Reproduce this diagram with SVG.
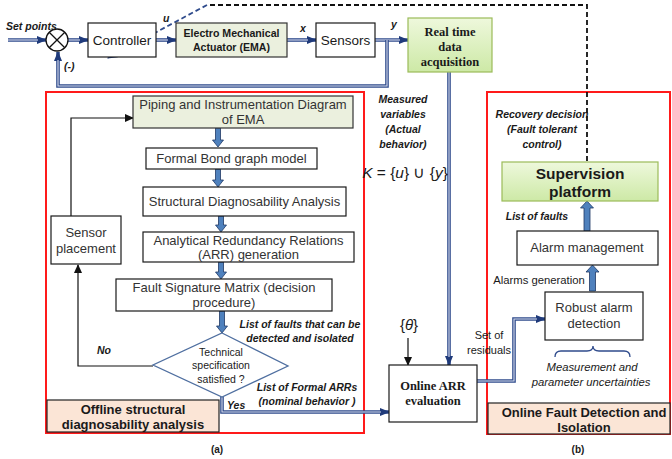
<svg xmlns="http://www.w3.org/2000/svg" width="672" height="459" viewBox="0 0 672 459">
<defs>
<style>
.box{fill:#fff;stroke:#1a1a1a;stroke-width:1.2}
.gbox{fill:#ebf0de;stroke:#333;stroke-width:1.2}
.green{fill:url(#gg);stroke:#9bbb59;stroke-width:1.2}
.peach{fill:#fbe5d6;stroke:#222;stroke-width:1.2}
.red{fill:none;stroke:#ff1a1a;stroke-width:2}
.dbl{fill:none;stroke:#2f4b8c;stroke-width:3.6}
.dbli{fill:none;stroke:#d9dfee;stroke-width:1.1}
.thin{fill:none;stroke:#111;stroke-width:1.2}
.blk{fill:#4f81bd;stroke:#1f3864;stroke-width:0.8}
.dash{fill:none;stroke:#111;stroke-width:1.8;stroke-dasharray:5,3}
.dashb{fill:none;stroke:#2f4b8c;stroke-width:1.8;stroke-dasharray:5,3}
text{font-family:"Liberation Sans",Arial,sans-serif;fill:#1a1a1a}
.t12{font-size:13px;fill:#333}
.bi{font-weight:bold;font-style:italic;font-size:10.5px}
.ser{font-family:"Liberation Serif","Times New Roman",serif;font-weight:bold;font-size:12.5px}
.lab{font-size:13px;font-weight:bold}
</style>
<linearGradient id="gg" x1="0" y1="0" x2="0" y2="1">
<stop offset="0" stop-color="#eef8dc"/>
<stop offset="1" stop-color="#cde9a6"/>
</linearGradient>
<marker id="ab" markerUnits="userSpaceOnUse" markerWidth="10" markerHeight="10" refX="9" refY="5" orient="auto">
<path d="M0,1 L10,5 L0,9 Z" fill="#1f3a7a"/>
</marker>
<marker id="ak" markerUnits="userSpaceOnUse" markerWidth="9" markerHeight="9" refX="8" refY="4.5" orient="auto">
<path d="M0,0.5 L9,4.5 L0,8.5 Z" fill="#111"/>
</marker>
</defs>

<!-- containers -->
<g id="offline-frame"><rect class="red" x="46" y="92" width="318" height="341"/></g>
<g id="online-frame"><rect class="red" x="487" y="92" width="183" height="342"/></g>

<!-- connectors -->
<g id="connectors">
<path class="dbl" d="M8,40 H46" marker-end="url(#ab)"/><path class="dbli" d="M8,40 H38"/>
<path class="dbl" d="M68,40 H88" marker-end="url(#ab)"/><path class="dbli" d="M68,40 H80"/>
<path class="dbl" d="M156,40 H176" marker-end="url(#ab)"/><path class="dbli" d="M156,40 H168"/>
<path class="dbl" d="M287,40 H316" marker-end="url(#ab)"/><path class="dbli" d="M287,40 H308"/>
<path class="dbl" d="M375,40 H408" marker-end="url(#ab)"/><path class="dbli" d="M375,40 H400"/>
<path class="dbl" d="M387,40 V86 H58 V52" marker-end="url(#ab)"/><path class="dbli" d="M387,40 V86 H58 V60"/>
<path class="dbl" d="M449,72 V365" marker-end="url(#ab)"/><path class="dbli" d="M449,72 V357"/>
<path class="dbl" d="M222,397 V412 H389" marker-end="url(#ab)"/><path class="dbli" d="M222,397 V412 H381"/>
<path class="dbl" d="M477,381 H514 V319 H545" marker-end="url(#ab)"/><path class="dbli" d="M477,381 H514 V319 H537"/>
<path class="thin" d="M71,216 V118 H133" marker-end="url(#ak)"/>
<path class="thin" d="M153,366 H78 V265" marker-end="url(#ak)"/>
<path class="thin" d="M408,338 V365" marker-end="url(#ak)"/>
<path class="dash" d="M587,161 V5 H207"/>
<path class="dashb" d="M207,5 L108,58" marker-end="url(#ab)"/>
<path class="blk" d="M215.5,128 H220.5 V140 H223.5 L218,147 L212.5,140 H215.5 Z"/>
<path class="blk" d="M215.5,169 H220.5 V180 H223.5 L218,187 L212.5,180 H215.5 Z"/>
<path class="blk" d="M218.5,216 H223.5 V225 H226.5 L221,232 L215.5,225 H218.5 Z"/>
<path class="blk" d="M218.5,262 H223.5 V272 H226.5 L221,279 L215.5,272 H218.5 Z"/>
<path class="blk" d="M219.5,311 H224.5 V326 H227.5 L222,333 L216.5,326 H219.5 Z"/>
<path class="blk" d="M584,231 V208 H580.5 L587,201 L593.5,208 H590 V231 Z"/>
<path class="blk" d="M589.5,291 V272 H586 L592.5,265 L599,272 H595.5 V291 Z"/>
<path fill="none" stroke="#2f4b8c" stroke-width="1.3" d="M555,357 Q555,351 561,351 H587 Q593,351 593,346 Q593,351 599,351 H624 Q630,351 630,357"/>
</g>

<!-- top loop -->
<g id="sum">
<circle cx="57" cy="40" r="11" fill="#fff" stroke="#111" stroke-width="1.3"/>
<path d="M49.2,32.2 L64.8,47.8 M64.8,32.2 L49.2,47.8" stroke="#111" stroke-width="1.3"/>
</g>
<g id="controller"><rect class="box" x="88" y="23" width="68" height="34"/>
<text x="122" y="45" font-size="13.5" text-anchor="middle">Controller</text></g>
<g id="ema"><rect class="gbox" x="176" y="23" width="111" height="34"/>
<text x="231.5" y="37" font-size="10.6" font-weight="bold" text-anchor="middle" fill="#222">Electro Mechanical</text>
<text x="231.5" y="51" font-size="10.6" font-weight="bold" text-anchor="middle" fill="#222">Actuator  (EMA)</text></g>
<g id="sensors"><rect class="box" x="316" y="23" width="59" height="34"/>
<text x="345.5" y="45" font-size="13.5" text-anchor="middle">Sensors</text></g>
<g id="rtda"><rect class="green" x="408" y="18" width="84" height="54"/>
<text class="ser" x="450" y="36" text-anchor="middle">Real time</text>
<text class="ser" x="450" y="51" text-anchor="middle">data</text>
<text class="ser" x="450" y="66" text-anchor="middle">acquisition</text></g>

<text class="bi" x="6" y="30" font-size="9.8">Set points</text>
<text class="bi" x="64" y="70">(-)</text>
<text class="bi" x="163" y="22">u</text>
<text class="bi" x="300" y="32">x</text>
<text class="bi" x="391" y="28">y</text>

<!-- offline flow -->
<g id="pid"><rect class="gbox" x="133" y="96" width="220" height="32"/>
<text class="t12" x="243" y="109" text-anchor="middle">Piping and Instrumentation Diagram</text>
<text class="t12" x="243" y="124" text-anchor="middle">of EMA</text></g>
<g id="bond"><rect class="box" x="146" y="148" width="171" height="21"/>
<text class="t12" x="231.5" y="163" text-anchor="middle">Formal Bond graph model</text></g>
<g id="sda"><rect class="box" x="143" y="187" width="203" height="29"/>
<text class="t12" x="244.5" y="206" text-anchor="middle">Structural Diagnosability Analysis</text></g>
<g id="arr"><rect class="box" x="143" y="232" width="211" height="30"/>
<text class="t12" x="248.5" y="245" text-anchor="middle">Analytical Redundancy Relations</text>
<text class="t12" x="248.5" y="259" text-anchor="middle">(ARR) generation</text></g>
<g id="fsm"><rect class="box" x="116" y="279" width="216" height="32"/>
<text class="t12" x="224" y="292" text-anchor="middle">Fault Signature Matrix (decision</text>
<text class="t12" x="224" y="307" text-anchor="middle">procedure)</text></g>
<g id="decision"><path d="M222,333 L288,366 L222,397 L153,365 Z" fill="#fff" stroke="#4f6fa0" stroke-width="1.3"/>
<text x="221" y="356" font-size="10.5" fill="#555" text-anchor="middle">Technical</text>
<text x="221" y="369" font-size="10.5" fill="#555" text-anchor="middle">specification</text>
<text x="221" y="383" font-size="10.5" fill="#555" text-anchor="middle">satisfied ?</text></g>
<g id="sensor-placement"><rect class="box" x="51" y="216" width="70" height="48"/>
<text class="t12" x="86" y="237" text-anchor="middle" font-size="13.5">Sensor</text>
<text class="t12" x="86" y="253" text-anchor="middle" font-size="13.5">placement</text></g>
<g id="offline-label"><rect class="peach" x="47" y="400" width="172" height="32"/>
<text class="lab" x="133" y="414" text-anchor="middle">Offline structural</text>
<text class="lab" x="133" y="429" text-anchor="middle">diagnosability analysis</text></g>

<text class="bi" x="300" y="328" text-anchor="middle">List of faults that can be</text>
<text class="bi" x="300" y="342" text-anchor="middle">detected and isolated</text>
<text class="bi" x="97" y="354">No</text>
<text class="bi" x="227" y="409">Yes</text>
<text class="bi" x="307" y="391" text-anchor="middle">List of Formal ARRs</text>
<text class="bi" x="307" y="405" text-anchor="middle">(nominal behavior )</text>
<text x="217" y="453" font-size="10" font-weight="bold" text-anchor="middle">(a)</text>

<!-- middle -->
<text class="bi" x="403" y="103" text-anchor="middle" font-size="11">Measured</text>
<text class="bi" x="403" y="118" text-anchor="middle" font-size="11">variables</text>
<text class="bi" x="403" y="133" text-anchor="middle" font-size="11">(Actual</text>
<text class="bi" x="403" y="148" text-anchor="middle" font-size="11">behavior)</text>
<text x="405" y="178" font-size="15.5" text-anchor="middle" font-family="Liberation Serif, serif" fill="#222"><tspan font-style="italic">K</tspan> = {<tspan font-style="italic">u</tspan>} ∪ {<tspan font-style="italic">y</tspan>}</text>
<text x="409" y="330" font-size="15" text-anchor="middle" font-family="Liberation Serif, serif" fill="#444">{<tspan font-style="italic">θ</tspan>}</text>
<g id="online-arr"><rect class="box" x="389" y="365" width="88" height="57"/>
<text class="ser" x="433" y="390" text-anchor="middle" font-size="12">Online ARR</text>
<text class="ser" x="433" y="405" text-anchor="middle" font-size="12">evaluation</text></g>
<text x="489" y="339" font-size="11" text-anchor="middle" fill="#333">Set of</text>
<text x="489" y="354" font-size="11" text-anchor="middle" fill="#333">residuals</text>

<!-- online side -->
<text class="bi" x="542" y="118" text-anchor="middle">Recovery decision</text>
<text class="bi" x="542" y="133" text-anchor="middle">(Fault tolerant</text>
<text class="bi" x="542" y="148" text-anchor="middle">control)</text>
<g id="supervision"><rect class="green" x="502" y="162" width="156" height="39"/>
<text x="580" y="179" font-size="15.5" font-weight="bold" text-anchor="middle">Supervision</text>
<text x="580" y="197" font-size="15.5" font-weight="bold" text-anchor="middle">platform</text></g>
<text class="bi" x="537" y="220" text-anchor="middle">List of faults</text>
<g id="alarm-mgmt"><rect class="box" x="517" y="231" width="141" height="34"/>
<text class="t12" x="587" y="252" text-anchor="middle">Alarm management</text></g>
<text x="539" y="284" font-size="11.3" text-anchor="middle" fill="#333">Alarms generation</text>
<g id="robust"><rect class="box" x="545" y="292" width="98" height="48"/>
<text class="t12" x="594" y="312" text-anchor="middle">Robust alarm</text>
<text class="t12" x="594" y="328" text-anchor="middle">detection</text></g>
<text x="592" y="371" font-size="11.3" font-style="italic" text-anchor="middle" fill="#333">Measurement and</text>
<text x="591" y="386" font-size="11.3" font-style="italic" text-anchor="middle" fill="#333">parameter uncertainties</text>
<g id="online-label"><rect class="peach" x="488" y="403" width="182" height="31"/>
<text class="lab" x="584" y="417" text-anchor="middle">Online Fault Detection and</text>
<text class="lab" x="584" y="432" text-anchor="middle">Isolation</text></g>
<text x="578" y="453" font-size="10" font-weight="bold" text-anchor="middle">(b)</text>
</svg>
